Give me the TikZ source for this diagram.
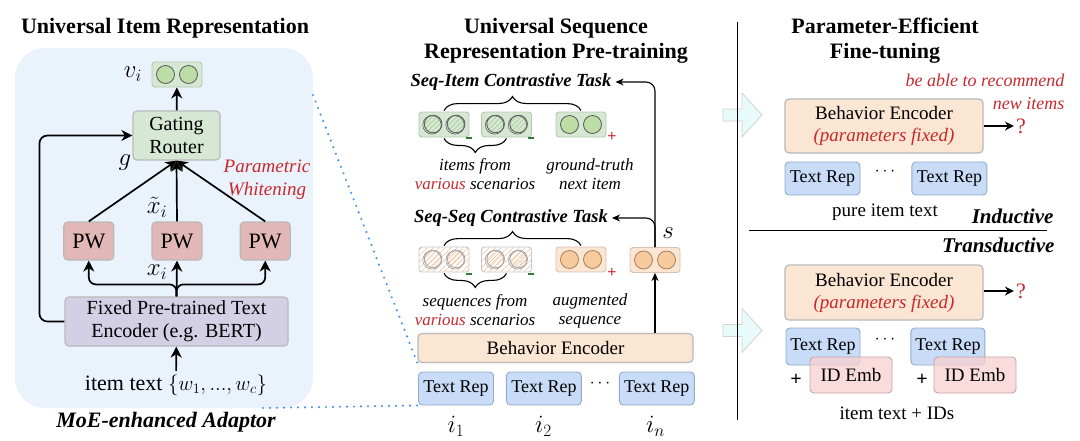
\documentclass[tikz,border=0pt]{standalone}
\usepackage{fontspec}
\setmainfont{Liberation Serif}
\usetikzlibrary{positioning,arrows.meta,decorations.pathreplacing,patterns.meta}

\definecolor{adaptorbg}{HTML}{EAF2FC}
\definecolor{routerfill}{HTML}{D6E8D4}
\definecolor{greendraw}{HTML}{B3C9AF}
\definecolor{pwfill}{HTML}{E2B7B7}
\definecolor{encfill}{HTML}{D3D0E5}
\definecolor{befill}{HTML}{FBE5D3}
\definecolor{orangedraw}{HTML}{D9C2AE}
\definecolor{circgreen}{HTML}{BCDDA6}
\definecolor{hatchgreen}{HTML}{A8CF94}
\definecolor{circorange}{HTML}{F7CB9E}
\definecolor{hatchorange}{HTML}{F6C7A2}
\definecolor{repfill}{HTML}{C8DCF7}
\definecolor{repdraw}{HTML}{93AACB}
\definecolor{idfill}{HTML}{F8D0D0}
\definecolor{iddraw}{HTML}{C9A3A3}
\definecolor{redtxt}{HTML}{C7282D}
\definecolor{dotblue}{HTML}{4D90E8}
\definecolor{hollow}{HTML}{E9FAFA}
\definecolor{minusgreen}{HTML}{2F7D32}

\newcommand{\fsz}[2]{\fontsize{#1}{#2}\selectfont}
% rough hand-drawn circle inside a pair box
\newcommand{\scribble}[4]{%
  \fill[pattern={Lines[angle=45,distance=3.5pt,line width=0.7pt]},pattern color=#3] ([xshift=#2pt]#1.center) circle (8.5pt);
  \draw[#4,line width=0.9pt] ([xshift=#2pt+0.6pt,yshift=0.5pt]#1.center) circle (8.8pt);
  \draw[#4,line width=0.6pt] ([xshift=#2pt-0.5pt,yshift=-0.4pt]#1.center) circle (9.2pt);}

\begin{document}
\begin{tikzpicture}[x=1pt,y=-1pt,
    title/.style={font=\fsz{22}{25}\bfseries,align=center},
    block/.style={rounded corners=4pt,line width=1.2pt,align=center,inner sep=0pt},
    router/.style={block,draw=gray!55,fill=routerfill,minimum width=87pt,minimum height=49pt,font=\fsz{20}{23}},
    pw/.style={block,draw=gray!55,fill=pwfill,minimum width=50pt,minimum height=38pt,font=\fsz{22}{24}},
    textenc/.style={block,draw=gray!55,fill=encfill,minimum width=223pt,minimum height=49pt,font=\fsz{20}{23}},
    pairbox/.style={rounded corners=3pt,line width=0.9pt,minimum width=50pt,minimum height=25pt,inner sep=0pt},
    behav/.style={block,draw=gray!55,fill=befill,font=\fsz{19}{22}},
    rep/.style={block,line width=0.9pt,draw=repdraw,fill=repfill,minimum width=75pt,minimum height=33pt,font=\fsz{18}{20}},
    idemb/.style={block,line width=0.9pt,draw=iddraw,fill=idfill,fill opacity=0.75,text opacity=1,minimum width=82pt,minimum height=36pt,font=\fsz{19}{21}},
    task/.style={font=\fsz{18.5}{21}\bfseries\itshape,inner sep=4pt},
    note/.style={font=\fsz{17}{19}\itshape,align=center},
    mathlab/.style={font=\fsz{26}{28}},
    idxlab/.style={font=\fsz{24}{26}},
    minus/.style={fill=minusgreen,minimum width=6pt,minimum height=2pt,inner sep=0pt},
    plus/.style={text=redtxt,font=\fsz{16}{16}\bfseries,inner sep=0pt},
    qmark/.style={text=redtxt,font=\fsz{22}{24},inner sep=2pt},
    fat/.style={line width=1.7pt,-{Stealth[length=11pt,width=11pt,inset=3.5pt]}},
    slim/.style={line width=1.1pt,-{Stealth[length=8pt,width=7pt,inset=2.5pt]}},
    boldarrow/.style={line width=2pt,-{Stealth[length=9pt,width=9pt,inset=3pt]}},
    zoomline/.style={draw=dotblue,line width=2.4pt,line cap=round,dash pattern=on 0pt off 7pt},
    curly/.style={decorate,decoration={brace,amplitude=14pt},line width=1.1pt}]
  \useasboundingbox (0,0) rectangle (1080,440);

  % universal item representation
  \node[fill=adaptorbg,rounded corners=30pt,minimum width=298pt,minimum height=360pt] (adaptor) at (164,228) {};
  \node[title] (ttl1) at (165,28) {Universal Item Representation};
  \node[pairbox,draw=greendraw,fill=routerfill] (vi) at (177,74.5) {};
  \foreach \dx in {-11.5,11.5}
    \draw[gray!70!black,fill=circgreen,line width=0.8pt] ([xshift=\dx pt]vi.center) circle (9pt);
  \node[mathlab] (vilab) [left=6pt of vi] {$v_i$};
  \node[router] (router) at (176.5,135.5) {Gating\\Router};
  \node[pw] (pw2) at (177,241) {PW};
  \node[pw] (pw1) [left=37pt of pw2] {PW};
  \node[pw] (pw3) [right=37pt of pw2] {PW};
  \node[textenc] (enc) at (176.5,321.5) {Fixed Pre-trained Text\\Encoder (e.g. BERT)};
  \node[font=\fsz{22}{22}] (itemtxt) at (176,385) {item text $\{w_1, ..., w_c\}$};
  \node[font=\fsz{22}{23}\bfseries\itshape] (moe) at (166,422) {MoE-enhanced Adaptor};
  \node[mathlab] (glab) at (125,163) {$g$};
  \node[mathlab] (xtlab) at (157,207) {$\tilde{x}_i$};
  \node[mathlab] (xlab) at (157,272) {$x_i$};
  \node[font=\fsz{19}{23}\itshape,text=redtxt,align=center] (pwlab) at (267,180) {Parametric\\Whitening};

  \draw[fat] (router) -- (vi);
  \foreach \p in {pw1,pw2,pw3}
    \draw[fat] (\p.north) -- (router.south);
  \draw[fat] (enc.north) -- (pw2.south);
  \draw[fat,rounded corners=7pt] (enc.north) -- ++(0,-12) -| (pw1.south);
  \draw[fat,rounded corners=7pt] (enc.north) -- ++(0,-12) -| (pw3.south);
  \draw[fat,rounded corners=8pt] (enc.west) -- ++(-25,0) |- (router.west);
  \draw[fat] (itemtxt) -- (enc);

  % universal sequence representation pre-training
  \node[title] (ttl2) at (556,40.5) {Universal Sequence\\Representation Pre-training};
  \node[behav,minimum width=275pt,minimum height=29pt] (be) at (555.5,348) {Behavior Encoder};
  \node[rep] (r1) at (456,388.5) {Text Rep};
  \node[rep] (r2) [right=12pt of r1] {Text Rep};
  \node[rep] (rn) [right=37pt of r2] {Text Rep};
  \node[font=\fsz{18}{20}] (rdots) at (600,384) {$\cdots$};
  \node[idxlab] (i1) at (456,426) {$i_1$};
  \node[idxlab] (i2) at (543.5,426) {$i_2$};
  \node[idxlab] (in) at (655.5,426) {$i_n$};

  \node[pairbox,draw=orangedraw,fill=befill] (sbox) at (655,260) {};
  \node[idxlab] (slab) at (668,233) {$s$};
  \node[task] (task1) at (511,82) {Seq-Item Contrastive Task};
  \node[task] (task2) at (511,218) {Seq-Seq Contrastive Task};

  \node[pairbox,draw=greendraw,fill=routerfill] (a1) at (444,124.5) {};
  \node[pairbox,draw=greendraw,fill=routerfill] (a2) at (506.5,124.5) {};
  \node[pairbox,draw=greendraw,fill=routerfill] (a3) at (581,124.5) {};
  \node[pairbox,draw=gray!45,pattern={Lines[angle=45,distance=4pt,line width=0.8pt]},pattern color=hatchorange] (b1) at (444,259.5) {};
  \node[pairbox,draw=gray!45,pattern={Lines[angle=45,distance=4pt,line width=0.8pt]},pattern color=hatchorange] (b2) at (506.5,259.5) {};
  \node[pairbox,draw=orangedraw,fill=befill] (b3) at (581,259.5) {};

  \foreach \b in {a1,a2}{
    \foreach \dx in {-11.5,11.5}{\scribble{\b}{\dx}{hatchgreen}{gray!75!black}}}
  \foreach \b in {b1,b2}{
    \foreach \dx in {-11.5,11.5}{\scribble{\b}{\dx}{hatchorange}{gray!70}}}
  \foreach \dx in {-11.5,11.5}{
    \draw[gray!70!black,fill=circgreen,line width=0.8pt] ([xshift=\dx pt]a3.center) circle (9pt);
    \draw[brown!60!gray,fill=circorange,line width=0.8pt] ([xshift=\dx pt]b3.center) circle (9pt);
    \draw[brown!60!gray,fill=circorange,line width=0.8pt] ([xshift=\dx pt]sbox.center) circle (9pt);}

  \node[minus] (m1) at (468.5,137.5) {};
  \node[minus] (m2) at (530.5,137.5) {};
  \node[minus] (m3) at (468.5,273.5) {};
  \node[minus] (m4) at (530.5,273.5) {};
  \node[plus] (p1) at (612,137) {+};
  \node[plus] (p2) at (612,273) {+};

  \draw[curly] ([yshift=1pt]a1.north) -- ([yshift=1pt]a3.north);
  \draw[curly] ([yshift=-1pt]a2.south) -- ([yshift=-1pt]a1.south);
  \draw[curly] ([yshift=1pt]b1.north) -- ([yshift=1pt]b3.north);
  \draw[curly] ([yshift=-1pt]b2.south) -- ([yshift=-1pt]b1.south);

  \node[note] (n1) at (475,174) {items from\\\textcolor{redtxt}{various} scenarios};
  \node[note] (n2) at (590,174) {ground-truth\\next item};
  \node[note] (n3) at (475,310.5) {sequences from\\\textcolor{redtxt}{various} scenarios};
  \node[note] (n4) at (590,310.5) {augmented\\sequence};

  \draw[slim] (sbox |- be.north) -- (sbox.south);
  \draw[slim,rounded corners=9pt] (sbox.north) |- (task1.east);
  \draw[slim,rounded corners=9pt] (sbox.north) |- (task2.east);

  % zoom lines from the adaptor
  \coordinate (zoomA) at (313,95);
  \coordinate (zoomB) at (263,408);
  \draw[zoomline] (zoomA) -- (be.south west);
  \draw[zoomline] (zoomB) -- (r1.south west);

  % parameter-efficient fine-tuning
  \foreach \y in {115,330.5}
    \filldraw[fill=hollow,draw=gray!35,line width=0.8pt] (723,\y) ++(0,-6) -- ++(19,0) -- ++(0,-16)
      -- ++(20,22) -- ++(-20,22) -- ++(0,-16) -- ++(-19,0) -- cycle;
  \draw[line width=1pt] (737,22) -- (737,420);
  \node[title] (ttl3) at (885,40.5) {Parameter-Efficient\\Fine-tuning};
  \node[font=\fsz{18}{23}\itshape,text=redtxt,align=right,anchor=east] (able) at (1068,91.5) {be able to recommend\\new items};

  \node[behav,minimum width=198pt,minimum height=54pt] (be1) at (884,126) {Behavior Encoder\\\textcolor{redtxt}{\itshape (parameters fixed)}};
  \node[qmark] (q1) at (1021,126) {?};
  \draw[boldarrow] (be1.east) -- (q1.west);
  \node[rep] (t1) at (822.5,178.5) {Text Rep};
  \node[rep] (t2) [right=51pt of t1] {Text Rep};
  \node[font=\fsz{18}{20}] (tdots1) at (885,172) {$\cdots$};
  \node[font=\fsz{19}{21}] (pure) at (885,212) {pure item text};
  \node[font=\fsz{21}{23}\bfseries\itshape,anchor=east] (induct) at (1057,216) {Inductive};
  \draw[line width=1pt] (749,230) -- (1047,230);
  \node[font=\fsz{21}{23}\bfseries\itshape,anchor=east] (transd) at (1058,245) {Transductive};

  \node[behav,minimum width=198pt,minimum height=55pt] (be2) at (884,292.5) {Behavior Encoder\\\textcolor{redtxt}{\itshape (parameters fixed)}};
  \node[qmark] (q2) at (1021,291) {?};
  \draw[boldarrow] (be2.east |- q2) -- (q2.west);
  \node[rep,minimum width=74pt,minimum height=37pt] (t3) at (823,346.5) {Text Rep};
  \node[rep,minimum width=74pt,minimum height=37pt] (t4) [right=50pt of t3] {Text Rep};
  \node[idemb] (id1) at (851,375) {ID Emb};
  \node[idemb] (id2) at (975,375) {ID Emb};
  \node[font=\fsz{20}{20}\bfseries] (plus1) at (796,380) {+};
  \node[font=\fsz{20}{20}\bfseries] (plus2) at (922,380) {+};
  \node[font=\fsz{18}{20}] (tdots2) at (885,340) {$\cdots$};
  \node[font=\fsz{19}{21}] (itemids) at (897,413) {item text + IDs};
\end{tikzpicture}
\end{document}
